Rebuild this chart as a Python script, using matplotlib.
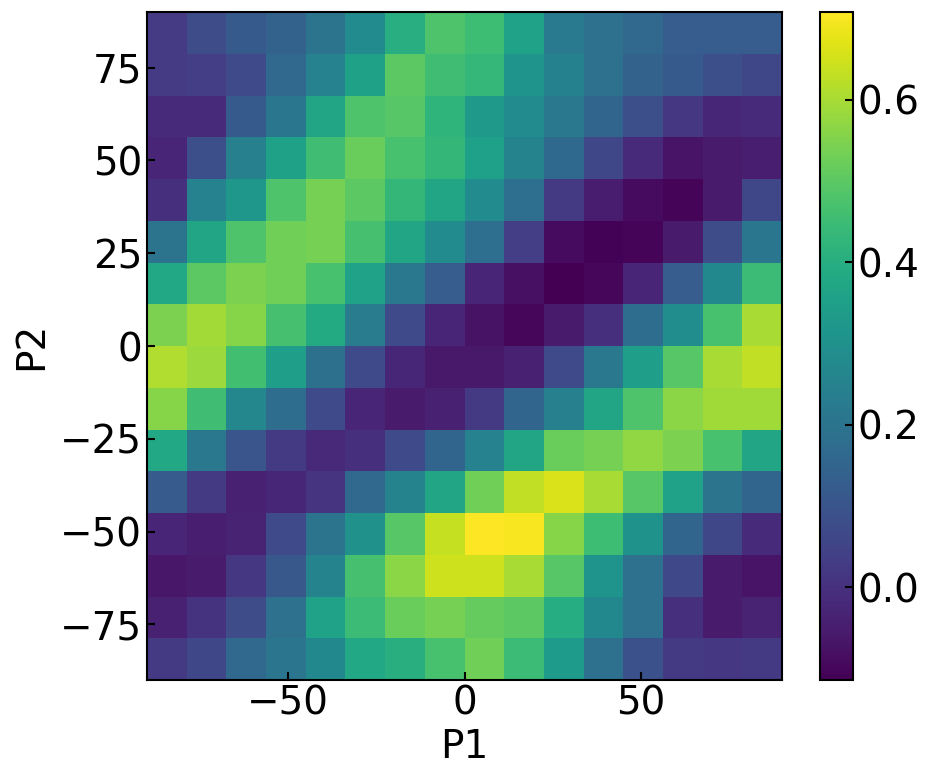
import numpy as np
import matplotlib
matplotlib.use("Agg")
import matplotlib.pyplot as plt

# grid edges (degrees)
p1_edges = np.linspace(-90, 90, 17)
p2_edges = np.linspace(-90, 90, 17)

# values, rows listed from top (P2 = 90) to bottom (P2 = -90), columns P1 = -90 -> 90
row_00 = [0.030, 0.075, 0.115, 0.140, 0.200, 0.280, 0.400, 0.480, 0.450, 0.360, 0.220, 0.190, 0.160, 0.125, 0.125, 0.125]
row_01 = [0.030, 0.035, 0.070, 0.160, 0.250, 0.355, 0.500, 0.455, 0.435, 0.310, 0.245, 0.190, 0.140, 0.115, 0.085, 0.060]
row_02 = [-0.015, -0.015, 0.115, 0.210, 0.370, 0.480, 0.490, 0.420, 0.330, 0.280, 0.215, 0.150, 0.085, 0.015, -0.025, -0.015]
row_03 = [-0.030, 0.085, 0.240, 0.355, 0.455, 0.520, 0.470, 0.430, 0.350, 0.255, 0.165, 0.060, -0.015, -0.070, -0.055, -0.045]
row_04 = [0.000, 0.250, 0.320, 0.480, 0.535, 0.500, 0.430, 0.370, 0.280, 0.180, 0.025, -0.050, -0.090, -0.105, -0.055, 0.060]
row_05 = [0.200, 0.370, 0.480, 0.530, 0.535, 0.465, 0.370, 0.280, 0.180, 0.035, -0.090, -0.110, -0.105, -0.055, 0.075, 0.210]
row_06 = [0.380, 0.500, 0.545, 0.530, 0.470, 0.360, 0.215, 0.125, -0.030, -0.080, -0.114, -0.100, -0.030, 0.125, 0.270, 0.445]
row_07 = [0.545, 0.595, 0.560, 0.465, 0.385, 0.225, 0.070, -0.030, -0.075, -0.100, -0.055, 0.000, 0.175, 0.290, 0.470, 0.600]
row_08 = [0.610, 0.585, 0.460, 0.345, 0.185, 0.070, -0.025, -0.060, -0.060, -0.040, 0.070, 0.215, 0.345, 0.490, 0.600, 0.630]
row_09 = [0.560, 0.455, 0.265, 0.175, 0.070, -0.030, -0.055, -0.040, 0.025, 0.150, 0.240, 0.370, 0.480, 0.565, 0.590, 0.590]
row_10 = [0.380, 0.215, 0.100, 0.025, -0.020, 0.000, 0.070, 0.150, 0.250, 0.370, 0.520, 0.535, 0.570, 0.545, 0.470, 0.370]
row_11 = [0.120, 0.025, -0.040, -0.025, 0.010, 0.160, 0.255, 0.370, 0.530, 0.630, 0.660, 0.600, 0.490, 0.360, 0.200, 0.150]
row_12 = [-0.030, -0.045, -0.035, 0.070, 0.200, 0.300, 0.490, 0.635, 0.708, 0.700, 0.560, 0.450, 0.305, 0.150, 0.060, -0.015]
row_13 = [-0.065, -0.055, 0.015, 0.110, 0.255, 0.465, 0.565, 0.645, 0.645, 0.600, 0.490, 0.310, 0.190, 0.065, -0.055, -0.070]
row_14 = [-0.040, 0.005, 0.075, 0.190, 0.360, 0.445, 0.520, 0.535, 0.515, 0.500, 0.395, 0.270, 0.190, 0.000, -0.055, -0.035]
row_15 = [0.025, 0.060, 0.160, 0.205, 0.270, 0.380, 0.405, 0.470, 0.530, 0.445, 0.335, 0.190, 0.090, 0.025, 0.015, 0.025]

rows_top_to_bottom = [row_00, row_01, row_02, row_03, row_04, row_05, row_06, row_07,
                      row_08, row_09, row_10, row_11, row_12, row_13, row_14, row_15]
values = np.array(rows_top_to_bottom[::-1])  # bottom row first for pcolormesh

x_ticks = [-50, 0, 50]
y_ticks = [-75, -50, -25, 0, 25, 50, 75]
cbar_ticks = [0.0, 0.2, 0.4, 0.6]

fs = 28
fig = plt.figure(figsize=(9.36, 7.81), dpi=100)
ax = fig.add_axes([147/936, 101/781, 635/936, 668/781])
cax = fig.add_axes([820/936, 101/781, 33/936, 668/781])

mesh = ax.pcolormesh(p1_edges, p2_edges, values, cmap="viridis",
                     vmin=-0.114, vmax=0.708, shading="flat")
ax.set_xlim(-90, 90)
ax.set_ylim(-90, 90)
ax.set_xticks(x_ticks)
ax.set_yticks(y_ticks)
ax.tick_params(direction="in", labelsize=fs, length=6, width=1.5)
ax.set_xlabel("P1", fontsize=fs, labelpad=4)
ax.set_ylabel("P2", fontsize=fs, labelpad=7)
for s in ax.spines.values():
    s.set_linewidth(1.5)

cb = fig.colorbar(mesh, cax=cax, ticks=cbar_ticks)
cb.ax.tick_params(direction="in", labelsize=fs, length=6, width=1.5)
cb.outline.set_linewidth(1.5)

fig.savefig("out.png", dpi=100)
